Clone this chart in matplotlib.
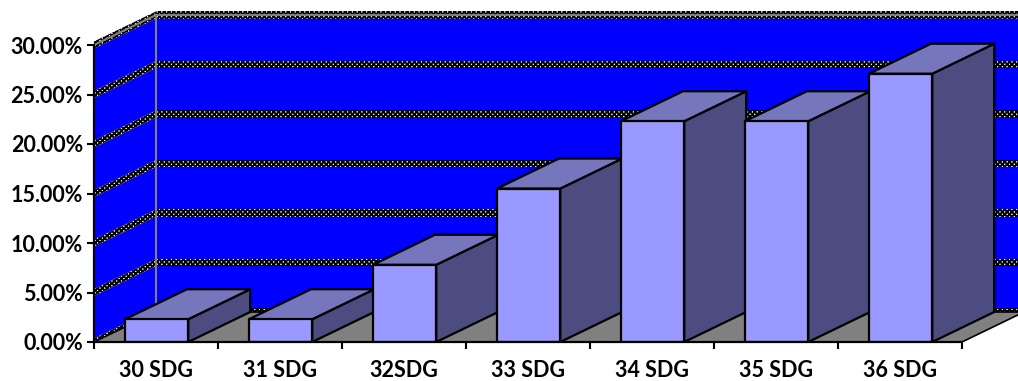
import numpy as np
import matplotlib
matplotlib.use("Agg")
from matplotlib import pyplot as plt
from matplotlib.patches import Polygon

# data
categories = ["30 SDG", "31 SDG", "32SDG", "33 SDG", "34 SDG", "35 SDG", "36 SDG"]
values = [2.3, 2.3, 7.8, 15.5, 22.3, 22.3, 27.1]
y_ticks = [0, 5, 10, 15, 20, 25, 30]

# oblique 3d look (depth offset in data units)
DX, DY = 0.5, 3.03
BAR_L, BAR_R = 0.25, 0.76
WALL_BLUE = "#0000FF"
FRONT, TOP, SIDE = "#9999FF", "#7676BC", "#4C4C80"

plt.rcParams["hatch.linewidth"] = 1.4

def hatched_band(ax, pts, z):
    ax.add_patch(Polygon(pts, closed=True, facecolor="white", edgecolor="black",
                         hatch="xxxxxxx", linewidth=0, zorder=z))

def draw_bar(ax, x0, x1, h, z):
    kw = dict(closed=True, edgecolor="black", linewidth=1.6, joinstyle="miter", zorder=z)
    ax.add_patch(Polygon([(x1, 0), (x1 + DX, DY), (x1 + DX, h + DY), (x1, h)], facecolor=SIDE, **kw))
    ax.add_patch(Polygon([(x1, h), (x1 + DX, h + DY), (x0 + DX, h + DY), (x0, h)], facecolor=TOP, **kw))
    ax.add_patch(Polygon([(x0, 0), (x1, 0), (x1, h), (x0, h)], facecolor=FRONT, **kw))

fig = plt.figure(figsize=(10.18, 3.81), dpi=100)
xmax = 924 / 124
ymax = 33.6
ax = fig.add_axes([94 / 1018, 39 / 381, 924 / 1018, ymax * 9.9 / 381])
ax.set_xlim(0, xmax)
ax.set_ylim(0, ymax)

n = len(categories)
top = y_ticks[-1]
band = 0.36

# back wall
ax.add_patch(Polygon([(DX, DY), (xmax + 1, DY), (xmax + 1, top + DY), (DX, top + DY)],
                     facecolor=WALL_BLUE, linewidth=0, zorder=1))
# side wall
ax.add_patch(Polygon([(0, 0), (DX, DY), (DX, top + DY), (0, top)],
                     facecolor=WALL_BLUE, linewidth=0, zorder=1))
for v in y_ticks:
    hatched_band(ax, [(DX, v + DY - band), (xmax + 1, v + DY - band),
                      (xmax + 1, v + DY + band), (DX, v + DY + band)], 2)
    hatched_band(ax, [(0, v - band), (DX, v + DY - band), (DX, v + DY + band), (0, v + band)], 2)
ax.plot([DX, DX], [DY, top + DY], color="#808080", linewidth=1.5, zorder=3)
ax.plot([0, DX, xmax + 1], [top, top + DY, top + DY], color="#808080", linewidth=1.5, zorder=3)

# floor
ax.add_patch(Polygon([(0, 0), (n, 0), (n + DX, DY), (DX, DY)], facecolor="#808080",
                     edgecolor="black", linewidth=1.2, zorder=4))

for i, v in enumerate(values):
    draw_bar(ax, i + BAR_L, i + BAR_R, v, 5 + i)

# axes
for s in ["top", "right"]:
    ax.spines[s].set_visible(False)
ax.spines["left"].set_bounds(0, top)
ax.spines["bottom"].set_bounds(0, n)
for s in ["left", "bottom"]:
    ax.spines[s].set_linewidth(1.6)
    ax.spines[s].set_zorder(20)

font = dict(family="Lato", weight="bold", size=15.5)
ax.set_yticks(y_ticks)
ax.set_yticklabels(["{:.2f}%".format(v) for v in y_ticks], **font)
ax.set_xticks(range(n + 1))
ax.set_xticklabels([])
ax.set_xticks(np.arange(n) + 0.5, minor=True)
ax.set_xticklabels(categories, minor=True, **font)
ax.tick_params(axis="x", which="minor", length=0, pad=13)
ax.tick_params(axis="both", which="major", length=5, width=1.5, direction="out")
ax.tick_params(axis="y", pad=3)

plt.savefig("out.png", dpi=100)
